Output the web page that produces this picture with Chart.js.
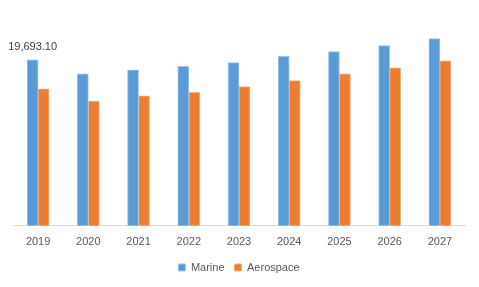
<!DOCTYPE html>
<html>
<head>
<meta charset="utf-8">
<script src="https://cdn.jsdelivr.net/npm/chart.js@4/dist/chart.umd.min.js"></script>
<style>
  html, body { margin: 0; padding: 0; background: #fff; }
  #wrap { width: 479px; height: 287px; }
</style>
</head>
<body>
<div id="wrap"><canvas id="chart"></canvas></div>
<script>
// --- data ---
const years = ["2019", "2020", "2021", "2022", "2023", "2024", "2025", "2026", "2027"];
const marine = [19693.1, 18020, 18500, 18900, 19370, 20090, 20650, 21360, 22200];
const aerospace = [16230, 14800, 15400, 15840, 16510, 17220, 18020, 18740, 19570];
const labelledBars = [0]; // only the 2019 Marine bar carries a value label

// draws the value label above the chosen Marine bars
const valueLabel = {
  id: "valueLabel",
  afterDatasetsDraw(chart) {
    const ctx = chart.ctx;
    const meta = chart.getDatasetMeta(0);
    ctx.save();
    ctx.font = "11px 'Liberation Sans', Arial, sans-serif";
    ctx.fillStyle = "#404040";
    ctx.textAlign = "center";
    ctx.textBaseline = "bottom";
    labelledBars.forEach(i => {
      const bar = meta.data[i];
      const txt = marine[i].toLocaleString("en-US", { minimumFractionDigits: 2, maximumFractionDigits: 2 });
      ctx.fillText(txt, bar.x, bar.y - 7);
    });
    ctx.restore();
  }
};

new Chart(document.getElementById("chart").getContext("2d"), {
  type: "bar",
  data: {
    labels: years,
    datasets: [
      {
        label: "Marine",
        data: marine,
        backgroundColor: "#5B9BD5",
        borderColor: "#9DC3E6",
        borderWidth: 1,
        barThickness: 11,
        categoryPercentage: 0.56
      },
      {
        label: "Aerospace",
        data: aerospace,
        backgroundColor: "#ED7D31",
        borderColor: "#F4B183",
        borderWidth: 1,
        barThickness: 11,
        categoryPercentage: 0.56
      }
    ]
  },
  options: {
    responsive: true,
    maintainAspectRatio: false,
    animation: false,
    layout: { padding: { left: 13, right: 14, top: 15, bottom: 4 } },
    scales: {
      x: {
        grid: { display: false, drawTicks: false },
        border: { display: true, color: "#D9D9D9", width: 1 },
        ticks: {
          padding: 10,
          color: "#595959",
          font: { family: "'Liberation Sans', Arial, sans-serif", size: 11 }
        },
        afterFit(scale) { scale.height -= 7; } // pull the baseline closer to the legend
      },
      y: {
        display: false,
        min: 0,
        max: 25000
      }
    },
    plugins: {
      legend: {
        position: "bottom",
        labels: {
          boxWidth: 7,
          boxHeight: 7,
          padding: 10,
          color: "#595959",
          font: { family: "'Liberation Sans', Arial, sans-serif", size: 11 }
        }
      },
      tooltip: { enabled: false }
    }
  },
  plugins: [valueLabel]
});
</script>
</body>
</html>
